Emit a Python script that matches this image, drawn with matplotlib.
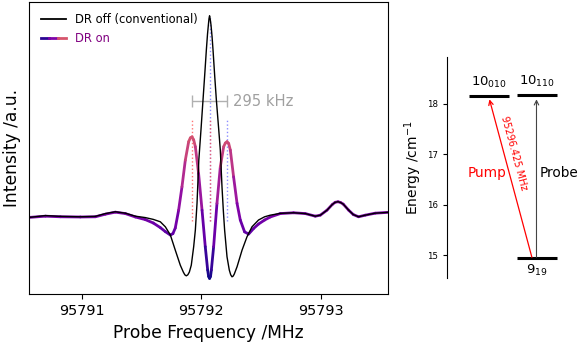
"""
Double-resonance probe spectrum (DR off vs DR on) with energy-level sketch.
"""
import matplotlib
matplotlib.use("Agg")
import matplotlib.pyplot as plt
import numpy as np
from matplotlib.collections import LineCollection
from matplotlib.colors import Normalize
from matplotlib.legend_handler import HandlerTuple
from matplotlib.lines import Line2D

# ---- spectrum data (probe frequency offset from 95792 MHz, intensity a.u.) ----
F0 = 95792.0
off_df = [-1.437, -1.305, -1.180, -1.013, -0.887, -0.803, -0.720, -0.636, -0.552,
          -0.469, -0.402, -0.343, -0.301, -0.259, -0.218, -0.176, -0.151, -0.138,
          -0.126, -0.113, -0.100, -0.084, -0.064, -0.050, -0.036, -0.021, -0.003,
          0.014, 0.030, 0.042, 0.052, 0.059, 0.064, 0.069, 0.074, 0.081, 0.090,
          0.098, 0.112, 0.126, 0.146, 0.159, 0.173, 0.184, 0.195, 0.215, 0.234,
          0.246, 0.257, 0.267, 0.276, 0.299, 0.341, 0.382, 0.424, 0.479, 0.530,
          0.577, 0.661, 0.772, 0.870, 0.954, 0.996, 1.052, 1.096, 1.120, 1.144,
          1.166, 1.188, 1.233, 1.272, 1.316, 1.372, 1.456, 1.562]
off_int = [-0.004, 0.005, 0.001, -0.001, 0.001, 0.015, 0.024, 0.017, 0.002,
           -0.005, -0.014, -0.026, -0.051, -0.092, -0.167, -0.242, -0.276, -0.290,
           -0.295, -0.290, -0.276, -0.242, -0.150, -0.067, 0.066, 0.281, 0.431,
           0.580, 0.720, 0.829, 0.910, 0.954, 0.985, 1.000, 0.985, 0.954, 0.895,
           0.829, 0.700, 0.580, 0.431, 0.331, 0.148, 0.032, -0.067, -0.200, -0.266,
           -0.290, -0.300, -0.296, -0.286, -0.250, -0.167, -0.101, -0.051, -0.017, -0.001,
           0.007, 0.016, 0.019, 0.015, 0.002, 0.007, 0.032, 0.060, 0.071, 0.074,
           0.070, 0.062, 0.032, 0.010, -0.001, 0.007, 0.017, 0.021]

on_df = [-1.437, -1.305, -1.180, -1.013, -0.887, -0.803, -0.720, -0.636, -0.552,
         -0.469, -0.402, -0.343, -0.301, -0.259, -0.238, -0.218, -0.190, -0.162,
         -0.134, -0.106, -0.092, -0.078, -0.064, -0.050, -0.023, 0.006, 0.033,
         0.053, 0.061, 0.069, 0.077, 0.084, 0.103, 0.131, 0.159, 0.187, 0.201,
         0.215, 0.229, 0.243, 0.270, 0.299, 0.326, 0.362, 0.396, 0.438, 0.479,
         0.530, 0.577, 0.661, 0.772, 0.870, 0.954, 0.996, 1.052, 1.096, 1.120,
         1.144, 1.166, 1.188, 1.233, 1.272, 1.316, 1.372, 1.456, 1.562]
on_int = [-0.004, 0.002, -0.001, -0.002, -0.001, 0.012, 0.022, 0.015, -0.002,
          -0.015, -0.032, -0.055, -0.075, -0.092, -0.085, -0.057, 0.032, 0.148,
          0.281, 0.373, 0.392, 0.397, 0.382, 0.348, 0.215, 0.032, -0.150,
          -0.266, -0.298, -0.308, -0.298, -0.266, -0.150, 0.066, 0.248, 0.348, 0.366,
          0.373, 0.364, 0.331, 0.198, 0.066, -0.017, -0.076, -0.087, -0.059, -0.037,
          -0.017, -0.002, 0.015, 0.019, 0.015, 0.002, 0.007, 0.032, 0.060, 0.071,
          0.074, 0.070, 0.062, 0.032, 0.010, -0.001, 0.007, 0.017, 0.021]

# line centre and Autler-Townes split components
centre_df = 0.069
split_khz = 295.0

# ---- energy levels (cm^-1) ----
level_labels = ["10$_{010}$", "10$_{110}$", "9$_{19}$"]
level_energy = [18.145, 18.165, 14.94]
level_xspan = [(0.226, 0.626), (0.70, 1.10), (0.70, 1.10)]
pump_label = "95296.425 MHz"

plt.rcParams["font.family"] = "DejaVu Sans"

fig = plt.figure(figsize=(5.81, 3.43), dpi=100)
ax = fig.add_axes([0.0504, 0.142, 0.6169, 0.853])
ax2 = fig.add_axes([0.769, 0.1895, 0.224, 0.6455])

# ----- left: spectrum -----
fx_off = F0 + np.array(off_df)
fx_on = F0 + np.array(on_df)
y_off = np.array(off_int)
y_on = np.array(on_int)

ax.plot(fx_off, y_off, color="k", lw=1.0, zorder=3)

pts = np.column_stack([fx_on, y_on]).reshape(-1, 1, 2)
segs = np.concatenate([pts[:-1], pts[1:]], axis=1)
norm = Normalize(min(y_on.min(), y_off.min()), max(y_on.max(), y_off.max()))
lc = LineCollection(segs, cmap="plasma", norm=norm, lw=2.0, zorder=2,
                    capstyle="round", joinstyle="round")
lc.set_array(0.5 * (y_on[:-1] + y_on[1:]))
ax.add_collection(lc)

# markers for line centre and split components
fc = F0 + centre_df
half = split_khz / 2000.0
ax.plot([fc, fc], [-0.02, 0.99], color="#7070ff", ls=":", lw=1.0, alpha=0.8, zorder=1)
ax.plot([fc - half, fc - half], [-0.02, 0.49], color="#ff5050", ls=":", lw=1.0,
        alpha=0.8, zorder=1)
ax.plot([fc, fc], [-0.02, 0.49], color="#ff5050", ls=":", lw=1.0, alpha=0.8, zorder=1)
ax.plot([fc + half, fc + half], [-0.02, 0.49], color="#7070ff", ls=":", lw=1.0,
        alpha=0.8, zorder=1)

ax.errorbar(fc, 0.575, xerr=half, color="#b0b0b0", capsize=4, lw=1.0, zorder=1)
ax.text(fc + half + 0.05, 0.575, f"{split_khz:.0f} kHz", color="#a0a0a0",
        fontsize=10.6, va="center", ha="left")

ax.set_xlim(95790.56, 95793.56)
ax.set_ylim(-0.387, 1.070)
ax.set_xticks([95791, 95792, 95793])
ax.ticklabel_format(axis="x", useOffset=False, style="plain")
ax.set_yticks([])
ax.tick_params(axis="x", labelsize=10.4)
ax.set_xlabel("Probe Frequency /MHz", fontsize=12.3)
ax.set_ylabel("Intensity /a.u.", fontsize=12.3, labelpad=6)

cmap = plt.get_cmap("plasma")
h_off = Line2D([], [], color="k", lw=1.3)
h_on = tuple(Line2D([], [], color=cmap(v), lw=2.0) for v in (0.05, 0.25, 0.55))
leg = ax.legend([h_off, h_on], ["DR off (conventional)", "DR on"],
                handler_map={tuple: HandlerTuple(ndivide=None, pad=0)},
                loc="upper left", frameon=False, fontsize=8.3,
                handlelength=2.2, borderaxespad=0.6)
leg.get_texts()[1].set_color("purple")

# ----- right: energy levels -----
for lab, e, (x0, x1) in zip(level_labels, level_energy, level_xspan):
    ax2.plot([x0, x1], [e, e], color="k", lw=2.2, solid_capstyle="butt")
    xm = 0.5 * (x0 + x1)
    if e > 16.5:
        ax2.text(xm, e + 0.12, lab, ha="center", va="bottom", fontsize=9.5)
    else:
        ax2.text(xm, e - 0.1, lab, ha="center", va="top", fontsize=9.5)

e_lo = level_energy[2]
x_lo = level_xspan[2]
x_pump_top = 0.5 * sum(level_xspan[0])
x_probe = 0.5 * sum(level_xspan[1])
ax2.annotate("", xy=(x_pump_top, level_energy[0] - 0.06), xytext=(x_lo[0] + 0.15, e_lo + 0.02),
             arrowprops=dict(arrowstyle="->", color="red", lw=0.9, shrinkA=0, shrinkB=0,
                             mutation_scale=8))
ax2.annotate("", xy=(x_probe - 0.004, level_energy[1] - 0.08), xytext=(x_probe - 0.004, e_lo + 0.02),
             arrowprops=dict(arrowstyle="->", color="#444444", lw=0.8, shrinkA=0, shrinkB=0,
                             mutation_scale=8))
ax2.text(0.60, 16.63, "Pump", color="red", ha="right", va="center", fontsize=9.8)
ax2.text(0.926, 16.63, "Probe", color="k", ha="left", va="center", fontsize=9.8)
ax2.text(0.675, 17.02, pump_label, color="red", fontsize=7, rotation=-74.8,
         ha="center", va="center", rotation_mode="anchor")

ax2.set_xlim(0, 1.3)
ax2.set_ylim(14.55, 18.93)
ax2.set_yticks([15, 16, 17, 18])
ax2.set_xticks([])
for s in ("top", "right", "bottom"):
    ax2.spines[s].set_visible(False)
ax2.tick_params(axis="y", labelsize=6.2, length=3)
ax2.set_ylabel("Energy /cm$^{-1}$", fontsize=10, labelpad=2)

fig.savefig("out.png", dpi=100)
